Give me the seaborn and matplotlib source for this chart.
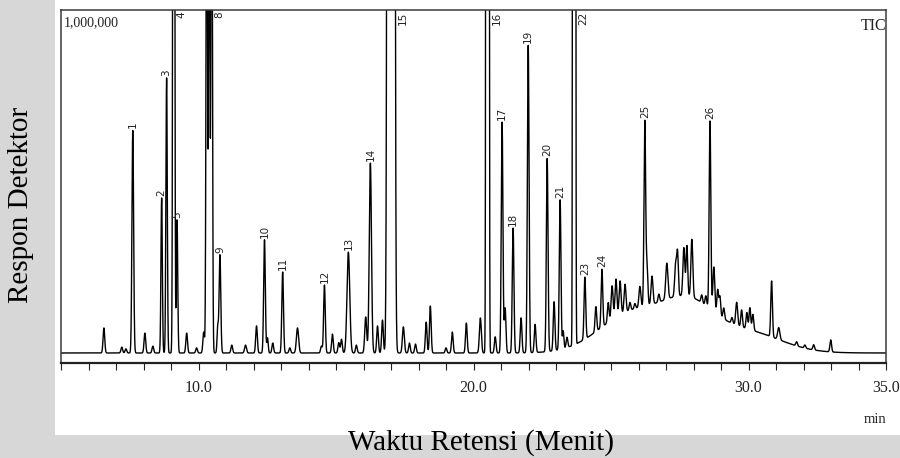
import numpy as np
import pandas as pd
import matplotlib
matplotlib.use("Agg")
import matplotlib.pyplot as plt
import seaborn as sns
from matplotlib.patches import Rectangle

# ---------------- data ----------------
# resolved peaks: retention time (min), height above local background (counts), sigma (min)
peak_times = [6.56, 7.21, 7.36, 7.61, 8.05, 8.34, 8.66, 8.84, 9.10, 9.22,
              9.57, 9.93, 10.19, 10.30, 10.39, 10.48, 10.70, 10.78, 11.21, 11.71,
              12.11, 12.40, 12.51, 12.70, 13.06, 13.32, 13.60, 14.47, 14.58, 14.87,
              15.10, 15.20, 15.45, 15.74, 16.08, 16.25, 16.51, 16.69, 17.00, 17.45,
              17.67, 17.89, 18.28, 18.43, 19.00, 19.23, 19.74, 20.25, 20.51, 20.79,
              21.04, 21.15, 21.44, 21.73, 21.99, 22.24, 22.68, 22.93, 23.15, 23.26,
              23.40, 23.66, 24.05, 24.45, 24.67, 24.90, 25.04, 25.18, 25.33, 25.51,
              25.69, 25.87, 26.05, 26.23, 26.31, 26.49, 26.74, 27.03, 27.35, 27.42,
              27.65, 27.76, 27.94, 28.30, 28.45, 28.60, 28.74, 28.88, 28.96, 29.10,
              29.40, 29.57, 29.75, 29.94, 30.05, 30.16, 30.84, 31.10, 31.75, 32.05,
              32.37, 32.99]
peak_heights = [73000, 17000, 12000, 650000, 58000, 20000, 452000, 802000, 5000000, 388000,
                58000, 15000, 61000, 1600000, 1400000, 1800000, 76000, 286000, 23000, 23000,
                79000, 330000, 44000, 29000, 236000, 15000, 73000, 20000, 198000, 55000,
                30000, 40000, 294000, 23000, 105000, 554000, 79000, 96000, 100000000, 76000,
                29000, 26000, 90000, 137000, 15000, 61000, 87000, 102000, 100000000, 47000,
                673000, 131000, 364000, 102000, 898000, 82000, 563000, 143000, 437000, 52000,
                30000, 100000000, 181000, 73000, 169000, 58000, 99000, 111000, 99000, 82000,
                23000, 15000, 61000, 539000, 117000, 82000, 23000, 105000, 93000, 122000,
                140000, 146000, 169000, 23000, 29000, 548000, 131000, 73000, 58000, 32000,
                17000, 67000, 50000, 47000, 64000, 47000, 163000, 35000, 12000, 9000,
                15000, 35000]
peak_sigmas = [0.03, 0.03, 0.03, 0.03, 0.03, 0.03, 0.025, 0.025, 0.025, 0.025,
               0.03, 0.03, 0.03, 0.025, 0.025, 0.025, 0.025, 0.03, 0.03, 0.035,
               0.03, 0.03, 0.025, 0.03, 0.03, 0.03, 0.04, 0.03, 0.03, 0.03,
               0.03, 0.03, 0.05, 0.03, 0.035, 0.04, 0.03, 0.03, 0.054, 0.035,
               0.03, 0.03, 0.03, 0.03, 0.03, 0.03, 0.03, 0.035, 0.024, 0.03,
               0.03, 0.03, 0.03, 0.03, 0.03, 0.03, 0.03, 0.03, 0.03, 0.025,
               0.03, 0.022, 0.03, 0.03, 0.03, 0.03, 0.035, 0.035, 0.035, 0.035,
               0.03, 0.03, 0.035, 0.03, 0.03, 0.035, 0.03, 0.04, 0.035, 0.03,
               0.035, 0.03, 0.035, 0.03, 0.03, 0.03, 0.035, 0.03, 0.03, 0.03,
               0.03, 0.035, 0.03, 0.03, 0.03, 0.03, 0.03, 0.04, 0.03, 0.03,
               0.03, 0.03]

# broad unresolved hump (late eluting region)
hump_centers = [25.8, 27.8, 29.8]
hump_heights = [117000, 117000, 64000]
hump_sigmas = [1.2, 0.9, 1.3]

# numbered peaks
label_ids = ["1", "2", "3", "4", "5", "8", "9", "10", "11", "12", "13", "14", "15",
             "16", "17", "18", "19", "20", "21", "22", "23", "24", "25", "26"]
label_times = [7.61, 8.66, 8.84, 9.10, 9.22, 10.48, 10.78, 12.40, 13.06, 14.58, 15.45, 16.25, 17.00,
               20.51, 21.04, 21.44, 21.99, 22.68, 23.15, 23.66, 24.05, 24.67, 26.23, 28.60]

x_ticks = list(range(5, 36))
x_tick_labels = {10: "10.0", 20: "20.0", 30: "30.0", 35: "35.0"}
full_scale = 1000000

# ---------------- build trace ----------------
t = np.arange(5.0, 35.0001, 0.004)
sig = np.zeros_like(t)
for c, h, s in zip(peak_times, peak_heights, peak_sigmas):
    sig += h * np.exp(-0.5 * ((t - c) / s) ** 2)
for c, h, s in zip(hump_centers, hump_heights, hump_sigmas):
    sig += h * np.exp(-0.5 * ((t - c) / s) ** 2)
df = pd.DataFrame({"t": t, "signal": sig})

# ---------------- figure ----------------
sns.set_theme(style="white")
plt.rcParams["font.family"] = ["Liberation Serif", "DejaVu Serif"]

fig = plt.figure(figsize=(9, 4.58), dpi=100)
fig.patch.set_facecolor("#d7d7d7")
fig.patches.append(Rectangle((55 / 900, 23 / 458), 1 - 55 / 900, 1 - 23 / 458,
                             transform=fig.transFigure, facecolor="white",
                             edgecolor="none", zorder=-10))

ax = fig.add_axes([61 / 900, 1 - 363 / 458, 825 / 900, 353 / 458])
ax.set_zorder(1)
ax.set_facecolor("white")
ymin = -0.0292 * full_scale
ax.set_xlim(5, 35)
ax.set_ylim(ymin, full_scale)

sns.lineplot(data=df, x="t", y="signal", ax=ax, color="black", linewidth=1.0,
             estimator=None)
ax.set_xlabel("")
ax.set_ylabel("")
ax.set_yticks([])
ax.set_xticks(x_ticks)
ax.set_xticklabels([x_tick_labels.get(v, "") for v in x_ticks])
ax.tick_params(axis="x", length=5, width=0.8, direction="out", pad=7,
               labelsize=11.5, colors="#222222", bottom=True)
for name, sp in ax.spines.items():
    sp.set_visible(True)
    sp.set_color("#3a3a3a")
    sp.set_linewidth(1.1)
ax.spines["bottom"].set_linewidth(1.6)
ax.spines["bottom"].set_color("#222222")

# peak labels
for lab, lt in zip(label_ids, label_times):
    i0 = int(np.argmin(np.abs(t - lt)))
    win = (t > lt - 0.06) & (t < lt + 0.06)
    apex = sig[win].max()
    if apex < full_scale:
        ax.annotate(lab, xy=(lt, apex), xytext=(0, 1.5), textcoords="offset points",
                    rotation=90, ha="center", va="bottom", fontsize=7.5,
                    family="DejaVu Sans", color="#222222")
    else:
        j = i0
        while j + 1 < len(t) and sig[j + 1] >= full_scale:
            j += 1
        ax.annotate(lab, xy=(t[j], full_scale), xytext=(5, -1), textcoords="offset points",
                    rotation=90, ha="center", va="top", fontsize=7.5,
                    family="DejaVu Sans", color="#222222")

ax.text(0.003, 0.982, "1,000,000", transform=ax.transAxes, ha="left", va="top",
        fontsize=10, color="#222222")
ax.text(1.0, 0.978, "TIC", transform=ax.transAxes, ha="right", va="top",
        fontsize=11.5, color="#222222")
ax.text(1.0, -0.170, "min", transform=ax.transAxes, ha="right", va="baseline",
        fontsize=10.5, color="#222222")

fig.text(481 / 900, 1 - 450 / 458, "Waktu Retensi (Menit)", ha="center", va="baseline",
         fontsize=21, color="black")
fig.text(21 / 900, 1 - 205 / 458, "Respon Detektor", rotation=90, ha="center",
         va="center", fontsize=21, color="black")

fig.savefig("out.png", dpi=100, facecolor=fig.get_facecolor())
